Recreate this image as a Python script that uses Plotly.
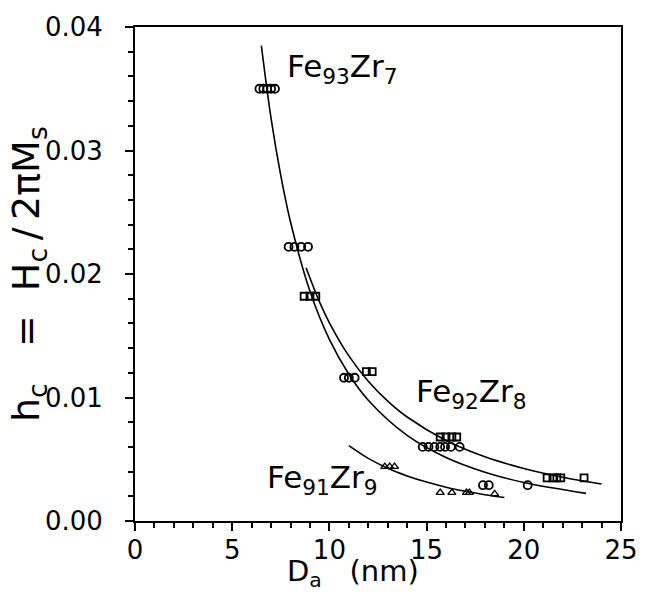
import plotly.graph_objects as go

# ---- data ----
circ_x = [6.4, 6.6, 6.8, 7.0, 7.2, 7.9, 8.2, 8.55, 8.9, 10.75, 11.0, 11.3,
          14.8, 15.1, 15.4, 15.7, 15.95, 16.25, 16.7, 17.9, 18.2, 20.2]
circ_y = [0.035, 0.035, 0.035, 0.035, 0.035, 0.0222, 0.0222, 0.0222, 0.0222,
          0.0116, 0.0116, 0.0116, 0.0060, 0.0060, 0.0060, 0.0060, 0.0060,
          0.0060, 0.0060, 0.0029, 0.0029, 0.0029]

sq_x = [8.7, 9.0, 9.3, 11.9, 12.2, 15.7, 16.0, 16.3, 16.55, 21.2, 21.5, 21.7, 21.9, 23.1]
sq_y = [0.0182, 0.0182, 0.0182, 0.0121, 0.0121, 0.0068, 0.0068, 0.0068, 0.0068,
        0.0035, 0.0035, 0.0035, 0.0035, 0.0035]

tri_x = [12.85, 13.1, 13.35, 15.7, 16.3, 17.05, 17.2, 18.5]
tri_y = [0.0044, 0.0044, 0.0044, 0.0023, 0.0023, 0.0023, 0.0023, 0.0022]

# fitted curves
c93_x = [6.5, 7.0, 7.5, 8.0, 9.0, 10.0, 11.0, 12.0, 14.0, 16.0, 18.0, 20.0, 23.2]
c93_y = [0.0385, 0.0326, 0.02796, 0.02421, 0.0186, 0.0147, 0.01188, 0.00978,
         0.00693, 0.00514, 0.00395, 0.00312, 0.00224]

c92_x = [8.8, 9.5, 10.0, 11.0, 12.0, 13.0, 14.0, 16.0, 18.0, 20.0, 22.0, 24.0]
c92_y = [0.0205, 0.0177, 0.01605, 0.01337, 0.01132, 0.00971, 0.00842, 0.00652,
         0.0052, 0.00425, 0.00354, 0.0030]

c91_x = [11.0, 12.0, 13.0, 14.0, 15.0, 16.0, 17.0, 18.0, 19.0]
c91_y = [0.0061, 0.00507, 0.00427, 0.00365, 0.00315, 0.00274, 0.00241, 0.00213, 0.0019]

labels = ["Fe<sub>93</sub>Zr<sub>7</sub>", "Fe<sub>92</sub>Zr<sub>8</sub>", "Fe<sub>91</sub>Zr<sub>9</sub>"]
label_x = [7.72, 14.35, 6.68]
label_y = [0.0366, 0.01034, 0.0034]

FONT = "DejaVu Sans"
NB = "\u00a0"
TS = "\u2009"

fig = go.Figure()
for cx, cy in [(c93_x, c93_y), (c92_x, c92_y), (c91_x, c91_y)]:
    fig.add_trace(go.Scatter(x=cx, y=cy, mode="lines",
                             line=dict(color="black", width=1.6, shape="spline"),
                             showlegend=False, hoverinfo="skip"))

fig.add_trace(go.Scatter(x=circ_x, y=circ_y, mode="markers", showlegend=False,
                         marker=dict(symbol="circle-open", size=8, color="black",
                                     line=dict(width=1.8, color="black"))))
fig.add_trace(go.Scatter(x=sq_x, y=sq_y, mode="markers", showlegend=False,
                         marker=dict(symbol="square-open", size=7, color="black",
                                     line=dict(width=1.8, color="black"))))
fig.add_trace(go.Scatter(x=tri_x, y=tri_y, mode="markers", showlegend=False,
                         marker=dict(symbol="triangle-up-open", size=7, color="black",
                                     line=dict(width=1.4, color="black"))))

for t, x, y in zip(labels, label_x, label_y):
    fig.add_annotation(x=x, y=y, text=t, showarrow=False, xanchor="left",
                       yanchor="middle", font=dict(family=FONT, size=31, color="black"))

fig.add_annotation(x=11.2, y=-0.1471, xref="x", yref="paper", xanchor="center",
                   yanchor="bottom",
                   text="D<sub>a</sub>" + NB * 3 + "(nm)", showarrow=False,
                   font=dict(family=FONT, size=29, color="black"))
fig.add_annotation(x=-0.22, y=0.50, xref="paper", yref="paper", xanchor="center",
                   yanchor="middle",
                   text=("h<sub>c</sub>" + NB * 3 + "=" + NB * 2 + "H<sub>c</sub>" + TS + "/"
                         + TS + "2πM<sub>s</sub>"),
                   textangle=-90,
                   showarrow=False, font=dict(family=FONT, size=38, color="black"))

axis_common = dict(showgrid=False, zeroline=False, showline=True, linecolor="black",
                   linewidth=2, mirror=True, ticks="outside", tickcolor="black",
                   tickwidth=1.5, ticklen=8, ticklabeloverflow="allow",
                   tickfont=dict(family=FONT, size=26, color="black"))

fig.update_xaxes(range=[0, 25], dtick=5, tick0=0, ticklabelstandoff=-3,
                 minor=dict(ticks="outside", dtick=1, ticklen=5, tickcolor="black", tickwidth=1.5),
                 **axis_common)
fig.update_yaxes(range=[0, 0.04], dtick=0.01, tick0=0, tickformat=".2f",
                 ticklabelstandoff=17,
                 minor=dict(ticks="outside", dtick=0.002, ticklen=5, tickcolor="black", tickwidth=1.5),
                 **axis_common)

fig.update_layout(width=650, height=595, plot_bgcolor="white", paper_bgcolor="white",
                  margin=dict(l=135, r=16, t=18, b=74), showlegend=False)

fig.write_html("out.html", config={"displayModeBar": False},
               post_script="document.body.style.margin='0';document.body.style.padding='0';")
